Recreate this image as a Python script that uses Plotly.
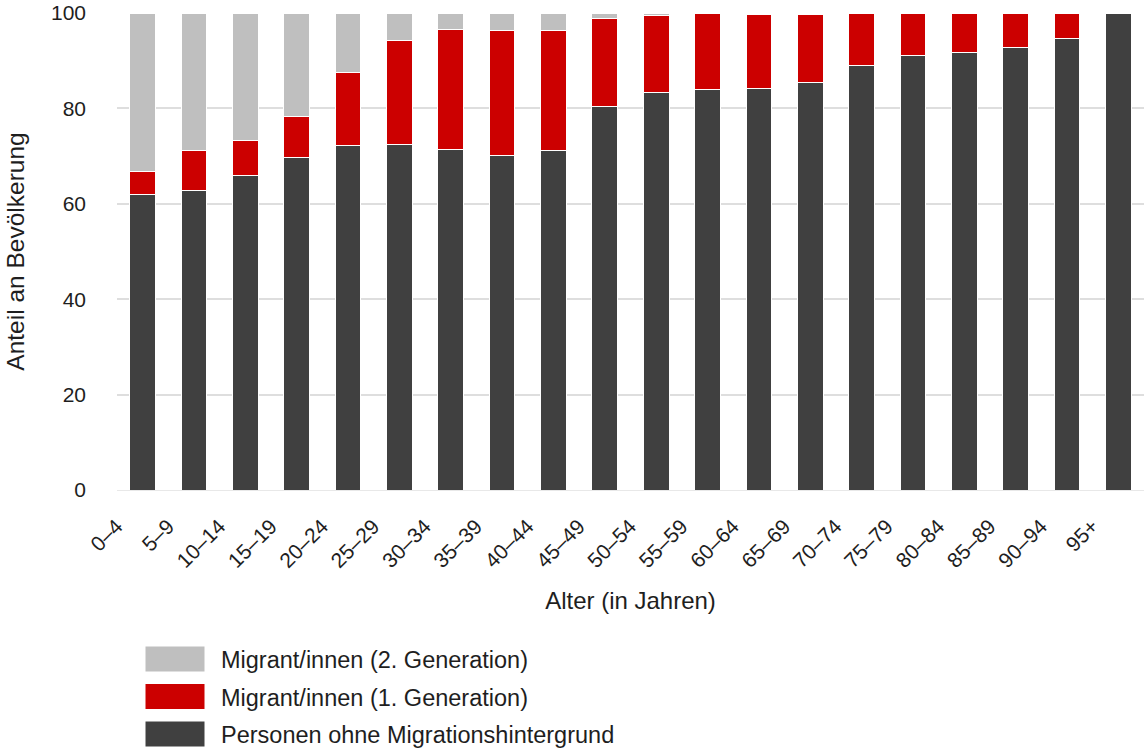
import plotly.graph_objects as go

ages = ["0–4", "5–9", "10–14", "15–19", "20–24", "25–29", "30–34", "35–39", "40–44",
        "45–49", "50–54", "55–59", "60–64", "65–69", "70–74", "75–79", "80–84",
        "85–89", "90–94", "95+"]
ohne = [62.0, 62.8, 66.0, 69.7, 72.3, 72.5, 71.4, 70.2, 71.2, 80.4, 83.4, 84.0,
        84.1, 85.5, 89.0, 91.0, 91.7, 92.8, 94.7, 100.0]
gen1 = [4.7, 8.3, 7.2, 8.7, 15.2, 21.8, 25.2, 26.1, 25.2, 18.4, 16.0, 15.85,
        15.6, 14.2, 10.8, 9.0, 8.3, 7.2, 5.3, 0.0]
gen2 = [33.3, 28.9, 26.8, 21.6, 12.5, 5.7, 3.4, 3.7, 3.6, 1.2, 0.6, 0.15,
        0.3, 0.3, 0.2, 0.0, 0.0, 0.0, 0.0, 0.0]

series = [
    ("Personen ohne Migrationshintergrund", ohne, "#404040"),
    ("Migrant/innen (1. Generation)", gen1, "#cc0000"),
    ("Migrant/innen (2. Generation)", gen2, "#bfbfbf"),
]

FONT = "Liberation Sans, Arial, sans-serif"
TXT = "#1e1e1e"
W, H = 1144, 750
ML, MR, MT, MB = 117, 0, 13, 260

fig = go.Figure()
for name, vals, col in series:
    fig.add_trace(go.Bar(
        x=ages, y=vals, name=name,
        marker=dict(color=col, line=dict(color="white", width=1)),
        showlegend=False,
    ))

# custom legend (large swatches), top entry = top of stack
pw = W - ML - MR
ph = H - MT - MB
def px_x(p):
    return (p - ML) / pw
def px_y(p):
    return (H - MB - p) / ph

row0 = 659
step = 37.5
for i, (name, vals, col) in enumerate(reversed(series)):
    cy = row0 + i * step
    fig.add_shape(type="rect", xref="paper", yref="paper",
                  x0=px_x(145), x1=px_x(205), y0=px_y(cy - 13), y1=px_y(cy + 13),
                  fillcolor=col, line=dict(color="white", width=1))
    fig.add_annotation(xref="paper", yref="paper", x=px_x(219), y=px_y(cy + 1),
                       text=name, showarrow=False, xanchor="left", yanchor="middle",
                       font=dict(family=FONT, size=23.5, color=TXT))

fig.update_layout(
    width=W, height=H,
    margin=dict(l=ML, r=MR, t=MT, b=MB),
    barmode="stack",
    bargap=0.5,
    plot_bgcolor="white", paper_bgcolor="white",
    font=dict(family=FONT, size=21, color=TXT),
)
fig.update_xaxes(
    tickangle=-45,
    tickfont=dict(size=21, color=TXT),
    ticklabelshift=-26,
    ticklabelstandoff=19,
    title=dict(text="Alter (in Jahren)", font=dict(size=24, color=TXT), standoff=21),
    showgrid=False, showline=False, ticks="",
)
fig.update_yaxes(
    range=[0, 100],
    tickvals=[0, 20, 40, 60, 80, 100],
    tickfont=dict(size=21, color=TXT),
    ticklabelstandoff=30,
    showgrid=True, gridcolor="#dedede", gridwidth=2,
    zeroline=True, zerolinecolor="#e8e8e8", zerolinewidth=1,
    title=dict(text="Anteil an Bevölkerung", font=dict(size=24.5, color=TXT), standoff=19),
    ticks="",
)

fig.write_html("out.html", config={"displayModeBar": False},
               post_script="document.body.style.margin='0px';")
